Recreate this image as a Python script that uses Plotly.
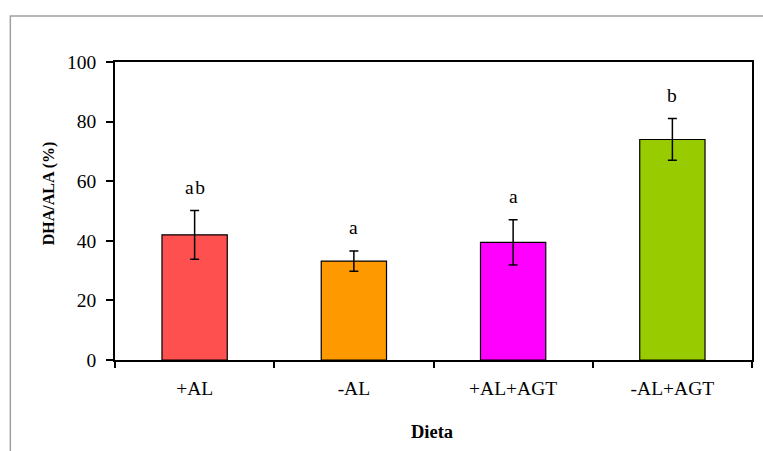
import plotly.graph_objects as go

categories = ["+AL", "-AL", "+AL+AGT", "-AL+AGT"]
values = [42.0, 33.2, 39.5, 74.0]
errors = [8.2, 3.4, 7.6, 7.0]
letters = ["a&#8202;b", "a", "a", "b"]
colors = ["#FF5050", "#FF9900", "#FF00FF", "#99CC00"]
y_ticks = [0, 20, 40, 60, 80, 100]

W, H = 763, 451
L, R, T, B = 115, 9, 62, 91
pw, ph = W - L - R, H - T - B

font_family = "Liberation Serif, Times New Roman, serif"

fig = go.Figure()
fig.add_trace(go.Bar(
    x=categories, y=values, width=0.41,
    marker=dict(color=colors, line=dict(color="black", width=1.2)),
    error_y=dict(type="data", array=errors, visible=True, color="black", thickness=1.5, width=4.5),
    showlegend=False,
))

for c, v, e, t in zip(categories, values, errors, letters):
    fig.add_annotation(x=c, y=v + e, text=t, showarrow=False, yanchor="middle", yshift=23,
                       font=dict(family=font_family, size=19.5, color="black"))

# axis titles
fig.add_annotation(xref="paper", yref="paper", x=(49 - L) / pw, y=(H - B - 193) / ph,
                   text="<b>DHA/ALA (%)</b>", textangle=-90, showarrow=False,
                   xanchor="center", yanchor="middle",
                   font=dict(family=font_family, size=16, color="black"))
fig.add_annotation(xref="paper", yref="paper", x=(433 - L) / pw, y=(H - B - 432) / ph,
                   text="<b>Dieta</b>", showarrow=False, xanchor="center", yanchor="middle",
                   font=dict(family=font_family, size=18.5, color="black"))

# outer chart frame (gray)
fig.add_shape(type="rect", xref="paper", yref="paper",
              x0=(10 - L) / pw, x1=(W + 20 - L) / pw,
              y0=(H - B - (H + 20)) / ph, y1=(H - B - 16) / ph,
              line=dict(color="#A0A0A0", width=1.5), fillcolor="rgba(0,0,0,0)", layer="below")

fig.update_layout(
    width=W, height=H,
    margin=dict(l=L, r=R, t=T, b=B),
    paper_bgcolor="white", plot_bgcolor="white",
    font=dict(family=font_family, size=19.5, color="black"),
)
fig.update_xaxes(showline=True, linecolor="black", linewidth=1.5, mirror=True,
                 ticks="outside", tickson="boundaries", ticklen=6, tickcolor="black", tickwidth=1.5,
                 showgrid=False, tickfont=dict(size=19.5, family=font_family),
                 ticklabelstandoff=10)
fig.update_yaxes(range=[0, 100], tickvals=y_ticks, showline=True, linecolor="black", linewidth=1.5,
                 mirror=True, ticks="outside", ticklen=7, tickcolor="black", tickwidth=1.5,
                 showgrid=False, zeroline=False, tickfont=dict(size=19.5, family=font_family),
                 ticklabelstandoff=6)

fig.write_html("out.html")
